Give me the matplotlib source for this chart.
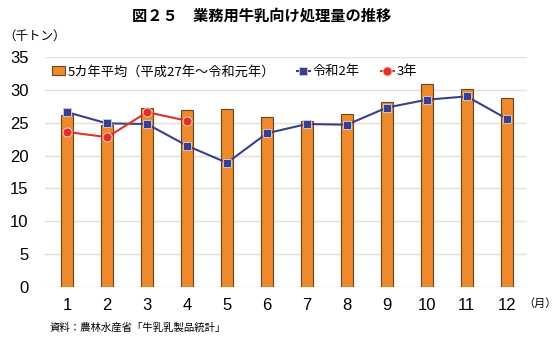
import numpy as np
import matplotlib.pyplot as plt

plt.rcParams['font.family'] = ['Noto Sans CJK JP', 'DejaVu Sans']

# 月別の業務用牛乳向け処理量（千トン）
tsuki = np.arange(1, 13)
heikin_5nen = [26.2, 24.6, 27.3, 27.0, 27.1, 25.8, 25.2, 26.4, 28.1, 30.9, 30.1, 28.7]
reiwa2 = [26.6, 24.9, 24.8, 21.5, 18.9, 23.4, 24.8, 24.7, 27.3, 28.5, 29.0, 25.6]
reiwa3 = [23.6, 22.8, 26.6, 25.3]
tsuki_labels = [str(m) for m in tsuki]

fig = plt.figure(figsize=(5.58, 3.37), dpi=100)
ax = fig.add_axes([0.081, 0.148, 0.863, 0.683])

b = ax.bar(tsuki, heikin_5nen, width=0.31, color='#EE8A2C', edgecolor='#6B4420',
           linewidth=0.8, label='5カ年平均（平成27年～令和元年）', zorder=2)
l2, = ax.plot(tsuki, reiwa2, color='#3A3F8C', lw=1.5, marker='s', ms=5.5,
              mfc='#3A3F8C', mec='#C9C6D8', mew=0.7, label='令和2年', zorder=3)
l3, = ax.plot(tsuki[:len(reiwa3)], reiwa3, color='#E0302C', lw=1.5, marker='o', ms=6.5,
              mfc='#E0302C', mec='#F4C9C2', mew=0.7, label='3年', zorder=4)

ax.set_xlim(0.45, 12.5)
ax.set_ylim(0, 35)
ax.set_yticks(range(0, 36, 5))
ax.set_xticks(tsuki)
ax.set_xticklabels(tsuki_labels)
ax.grid(axis='y', color='#E6E0D8', lw=1.0, zorder=0)
ax.set_axisbelow(True)
for s in ax.spines.values():
    s.set_visible(False)
ax.tick_params(length=0, labelsize=12, pad=8)
for t in ax.get_xticklabels() + ax.get_yticklabels():
    t.set_family(['Liberation Sans', 'Noto Sans CJK JP'])
ax.tick_params(axis='y', pad=12)

ax.legend([b, l2, l3], [b.get_label(), l2.get_label(), l3.get_label()],
          loc='upper left', bbox_to_anchor=(-0.01, 1.015), ncol=3, frameon=False,
          fontsize=9.5, handlelength=1.0, handletextpad=0.2, columnspacing=1.6)

fig.text(0.468, 0.955, '図２５　業務用牛乳向け処理量の推移', ha='center', va='center',
         fontsize=11, fontweight='bold')
fig.text(0.005, 0.893, '（千トン）', ha='left', va='center', fontsize=9)
fig.text(0.998, 0.098, '（月）', ha='right', va='center', fontsize=8)
fig.text(0.088, 0.027, '資料：農林水産省「牛乳乳製品統計」', ha='left', va='center', fontsize=7.5)

fig.savefig('out.png', dpi=100)
